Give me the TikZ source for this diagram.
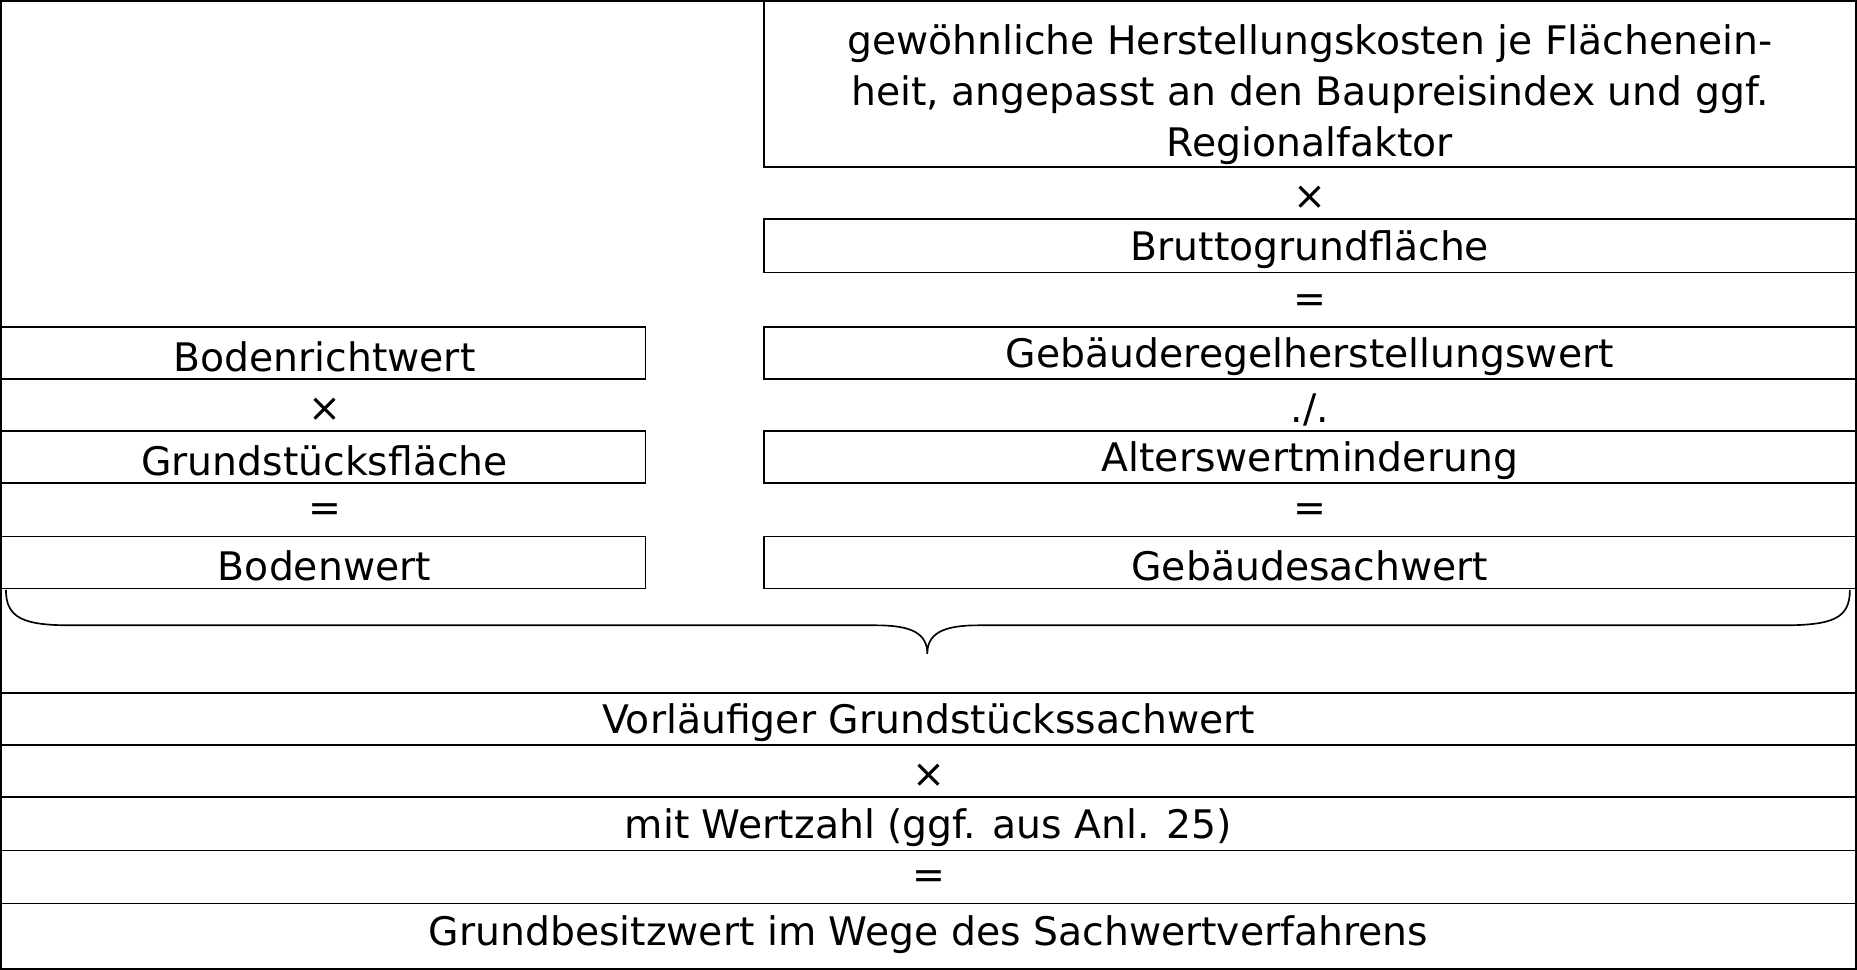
\documentclass[tikz,border=0pt]{standalone}
\usepackage{fontspec}
\setmainfont{DejaVu Sans}
\begin{document}
\begin{tikzpicture}[x=0.5pt,y=-0.5pt,line width=0.7pt,
  lbl/.style={inner sep=0pt,font=\fontsize{16.6}{21.5}\selectfont,align=center}]
\useasboundingbox (0,0) rectangle (1568,819);
\draw (1,1) rectangle (1567,818);
% left boxes
\draw (1,276) rectangle (545,320);
\draw (1,364) rectangle (545,408);
\draw (1,453) rectangle (545,497);
% right boxes
\draw (645,1) rectangle (1567,141);
\draw (645,185) rectangle (1567,230);
\draw (645,276) rectangle (1567,320);
\draw (645,364) rectangle (1567,408);
\draw (645,453) rectangle (1567,497);
% bottom lines
\foreach \y in {585,629,673,718,763} \draw (1,\y) -- (1567,\y);
% brace
\draw (5,498) .. controls (5,522) and (20,528) .. (60,528) -- (740,528)
  .. controls (770,528) and (783,535) .. (783,552)
  .. controls (783,535) and (796,528) .. (826,528) -- (1505,528)
  .. controls (1548,528) and (1562,522) .. (1562,498);
% texts
\node[lbl] (t1) at (1106,80) {gewöhnliche Herstellungskosten je Flächenein-\\heit, angepasst an den Baupreisindex und ggf.\\Regionalfaktor};
\node[lbl] (t2) at (1106,167) {×};
\node[lbl] (t3) at (1106,211) {Bruttogrundfläche};
\node[lbl] (t4) at (1106,256) {=};
\node[lbl] (t5) at (1106,301) {Gebäuderegelherstellungswert};
\node[lbl] (t6) at (1106,346) {./.};
\node[lbl] (t7) at (1106,389) {Alterswertminderung};
\node[lbl] (t8) at (1106,433) {=};
\node[lbl] (t9) at (1106,478) {Gebäudesachwert};
\node[lbl] (l1) at (274,301) {Bodenrichtwert};
\node[lbl] (l2) at (274,346) {×};
\node[lbl] (l3) at (274,389) {Grundstücksfläche};
\node[lbl] (l4) at (274,433) {=};
\node[lbl] (l5) at (274,478) {Bodenwert};
\node[lbl] (b1) at (784,610) {Vorläufiger Grundstückssachwert};
\node[lbl] (b2) at (784,655) {×};
\node[lbl] (b3) at (784,699) {mit Wertzahl (ggf. aus Anl. 25)};
\node[lbl] (b4) at (784,743) {=};
\node[lbl] (b5) at (784,789) {Grundbesitzwert im Wege des Sachwertverfahrens};
\end{tikzpicture}
\end{document}
